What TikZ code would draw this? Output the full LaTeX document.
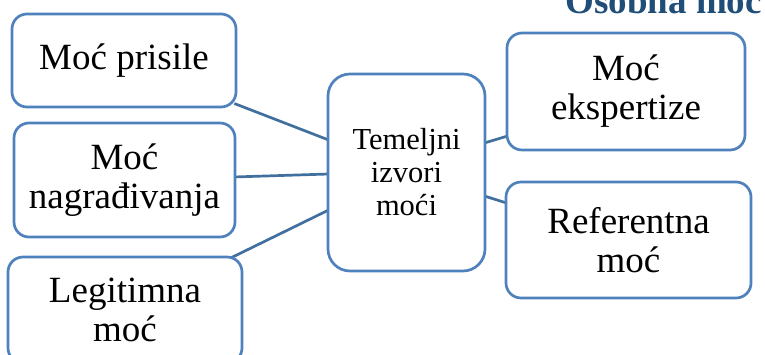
\documentclass[tikz,border=0pt]{standalone}
\usepackage{fontspec}
\setmainfont{Liberation Serif}
\usetikzlibrary{calc,backgrounds}
\definecolor{boxblue}{HTML}{4F81BD}
\definecolor{lineblue}{HTML}{41709F}
\definecolor{titleblue}{HTML}{1F4E79}
\begin{document}
\begin{tikzpicture}[x=1pt,y=-1pt,
  box/.style={draw=boxblue,line width=2.7pt,fill=white,rounded corners=15pt,
    align=center,inner sep=0pt,font=\fontsize{37}{39}\selectfont},
  conn/.style={draw=lineblue,line width=2.7pt}]
\useasboundingbox (0,0) rectangle (765,354);
\clip (0,0) rectangle (765,354);
\node[anchor=base east,font=\fontsize{37}{40}\selectfont\bfseries,text=titleblue,inner sep=0pt] (title) at (762,13) {Osobna moć};
\node[box,minimum width=224pt,minimum height=93pt] (b1) at (124,60.5) {Moć prisile};
\node[box,minimum width=221pt,minimum height=114pt] (b2) at (124.5,180) {Moć\\nagrađivanja};
\node[box,minimum width=234pt,minimum height=106pt] (b3) at (125,310) {Legitimna\\moć};
\node[box,rounded corners=22pt,minimum width=157pt,minimum height=197pt,font=\fontsize{30.5}{33}\selectfont] (c) at (406.5,172.5) {Temeljni\\izvori\\moći};
\node[box,minimum width=238pt,minimum height=117pt] (r1) at (626,91.5) {Moć\\ekspertize};
\node[box,minimum width=245pt,minimum height=116pt] (r2) at (628.5,240) {Referentna\\moć};
\begin{scope}[on background layer]
\draw[conn] ($(b1.east)+(-3,43)$) -- ($(c.west)+(2,-32.5)$);
\draw[conn] ($(b2.east)+(-3,-3)$) -- ($(c.west)+(2,1.5)$);
\draw[conn] ($(b3.north east)+(-12,2)$) -- ($(c.west)+(2,37.5)$);
\draw[conn] ($(c.east)+(-2,-29.5)$) -- ($(r1.west)+(2,44.5)$);
\draw[conn] ($(c.east)+(-2,23.5)$) -- ($(r2.west)+(2,-37)$);
\end{scope}
\end{tikzpicture}
\end{document}
